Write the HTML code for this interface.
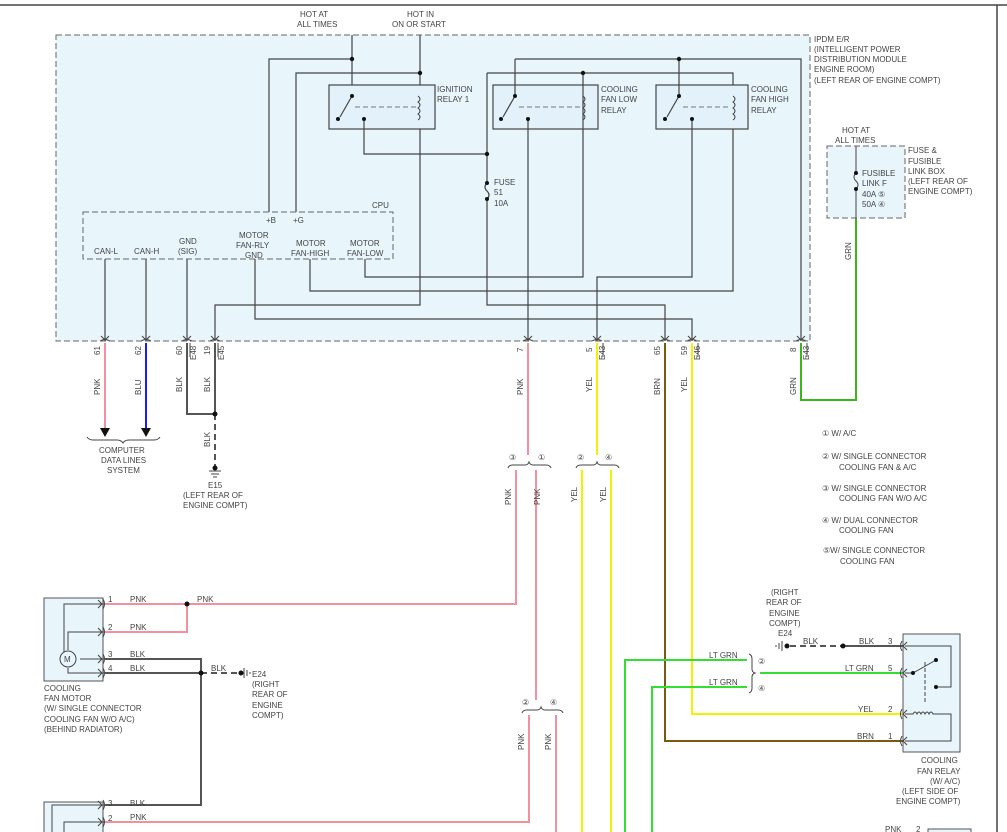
<!DOCTYPE html>
<html><head><meta charset="utf-8"><style>
html,body{margin:0;padding:0;background:#fff;}
svg{display:block;}
text{font-family:"Liberation Sans",sans-serif;font-size:8px;fill:#444;}
</style></head><body>
<svg width="1007" height="832" viewBox="0 0 1007 832" xmlns="http://www.w3.org/2000/svg">
<defs>
<g id="pin"><path d="M-4,-5 L0,-1 L4,-5 M-5,0 Q0,-3 5,0" stroke="#444" fill="none" stroke-width="1"/></g>
<g id="pinL"><path d="M5,-4 L1,0 L5,4 M0,-5 Q-3,0 0,5" stroke="#444" fill="none" stroke-width="1"/></g>
<g id="pinR"><path d="M-5,-4 L-1,0 L-5,4 M0,-5 Q3,0 0,5" stroke="#444" fill="none" stroke-width="1"/></g>
</defs>
<line x1="0" y1="5" x2="1007" y2="5" stroke="#444" stroke-width="1.5"/>
<line x1="997" y1="5" x2="997" y2="832" stroke="#444" stroke-width="1.5"/>

<rect x="56" y="35" width="754" height="306" fill="#e8f5fb" stroke="#666" stroke-dasharray="6,3"/>
<text x="300" y="17">HOT AT</text><text x="297" y="27">ALL TIMES</text>
<text x="407" y="17">HOT IN</text><text x="392" y="27">ON OR START</text>
<text x="814" y="42">IPDM E/R</text>
<text x="814" y="52">(INTELLIGENT POWER</text>
<text x="814" y="62">DISTRIBUTION MODULE</text>
<text x="814" y="72">ENGINE ROOM)</text>
<text x="814" y="83">(LEFT REAR OF ENGINE COMPT)</text>

<g stroke="#444" fill="none" stroke-width="1.2">
<path d="M352,35 V96 M420,35 V305 H215 V341"/>
<path d="M352,59 H269 V212 M420,73 H296 V212"/>
<rect x="329" y="85" width="106" height="44" fill="#e3f2fa"/>
<path d="M352,96 L340,117"/>
<path d="M364,119 V154 H487"/>
<path d="M487,73 V183 M487,199 V305 H665 V341"/>
<path d="M487,183 q-4,4 0,8 q4,4 0,8"/>
<path d="M487,73 H733 V291 H310 V259"/>
<path d="M515,59 H801 V341"/>
<rect x="493" y="85" width="105" height="44" fill="#e3f2fa"/>
<path d="M515,59 V96 L503,117 M528,119 V341"/>
<path d="M583,73 V277 H365 V259"/>
<rect x="656" y="85" width="92" height="44" fill="#e3f2fa"/>
<path d="M679,59 V96 L667,117 M692,119 V277 H597 V341"/>
<path d="M255,259 V319 H692 V341"/>
<path d="M105,259 V341 M146,259 V341 M187,259 V341"/>
</g>
<g stroke="#444" fill="none" stroke-width="1">
<path d="M418,96 q4,3 0,6 q4,3 0,6 q4,3 0,6 q4,3 0,6"/>
<path d="M583,96 q4,3 0,6 q4,3 0,6 q4,3 0,6 q4,3 0,6"/>
<path d="M733,96 q4,3 0,6 q4,3 0,6 q4,3 0,6 q4,3 0,6"/>
<path d="M355,107 H416 M519,107 H580 M683,107 H730" stroke-dasharray="5,3" stroke="#777"/>
</g>
<g fill="#111">
<circle cx="352" cy="59" r="2.2"/><circle cx="420" cy="73" r="2.2"/>
<circle cx="352" cy="96" r="2"/><circle cx="338" cy="119" r="2"/><circle cx="364" cy="119" r="2"/>
<circle cx="487" cy="154" r="2.2"/><circle cx="487" cy="183" r="2"/><circle cx="487" cy="199" r="2"/>
<circle cx="583" cy="73" r="2.2"/><circle cx="679" cy="59" r="2.2"/>
<circle cx="515" cy="96" r="2"/><circle cx="501" cy="119" r="2"/><circle cx="528" cy="119" r="2"/>
<circle cx="679" cy="96" r="2"/><circle cx="665" cy="119" r="2"/><circle cx="692" cy="119" r="2"/>
</g>
<text x="437" y="92">IGNITION</text><text x="437" y="102">RELAY 1</text>
<text x="601" y="92">COOLING</text><text x="601" y="102">FAN LOW</text><text x="601" y="113">RELAY</text>
<text x="751" y="92">COOLING</text><text x="751" y="102">FAN HIGH</text><text x="751" y="113">RELAY</text>
<text x="494" y="185">FUSE</text><text x="494" y="195">51</text><text x="494" y="206">10A</text>

<rect x="83" y="212" width="310" height="47" fill="none" stroke="#666" stroke-dasharray="6,3"/>
<text x="372" y="208">CPU</text>
<text x="266" y="223">+B</text><text x="293" y="223">+G</text>
<text x="94" y="254">CAN-L</text><text x="134" y="254">CAN-H</text>
<text x="179" y="244">GND</text><text x="178" y="254">(SIG)</text>
<text x="239" y="238">MOTOR</text><text x="236" y="248">FAN-RLY</text><text x="245" y="258">GND</text>
<text x="296" y="246">MOTOR</text><text x="291" y="256">FAN-HIGH</text>
<text x="350" y="246">MOTOR</text><text x="347" y="256">FAN-LOW</text>

<g>
<use href="#pin" x="105" y="341"/><use href="#pin" x="146" y="341"/><use href="#pin" x="187" y="341"/><use href="#pin" x="215" y="341"/>
<use href="#pin" x="528" y="341"/><use href="#pin" x="597" y="341"/><use href="#pin" x="665" y="341"/><use href="#pin" x="692" y="341"/><use href="#pin" x="801" y="341"/>
</g>
<g font-size="7">
<text transform="translate(100,355) rotate(-90)">61</text>
<text transform="translate(141,355) rotate(-90)">62</text>
<text transform="translate(182,355) rotate(-90)">60</text>
<text transform="translate(196,360) rotate(-90)">E48</text>
<text transform="translate(210,355) rotate(-90)">19</text>
<text transform="translate(224,360) rotate(-90)">E45</text>
<text transform="translate(523,352) rotate(-90)">7</text>
<text transform="translate(592,352) rotate(-90)">5</text>
<text transform="translate(605,360) rotate(-90)">E43</text>
<text transform="translate(660,355) rotate(-90)">65</text>
<text transform="translate(687,355) rotate(-90)">59</text>
<text transform="translate(700,360) rotate(-90)">E46</text>
<text transform="translate(796,352) rotate(-90)">8</text>
<text transform="translate(809,360) rotate(-90)">E43</text>
</g>
<path d="M190,343 V357 M218,343 V357 M603,343 V357 M698,343 V357 M807,343 V357" stroke="#444"/>

<g fill="none" stroke-width="2">
<path d="M105,343 V428" stroke="#f48fa0"/>
<path d="M146,343 V428" stroke="#1a1aff"/>
<path d="M187,343 V414 H215 M215,343 V414" stroke="#555"/>
<path d="M215,414 V466" stroke="#555" stroke-dasharray="6,4"/>
<path d="M528,343 V455" stroke="#f48fa0"/>
<path d="M516,470 V604 H105 M187,604 V632 H105" stroke="#f48fa0"/>
<path d="M536,470 V700" stroke="#f48fa0"/>
<path d="M529,715 V822 H105 M556,715 V832" stroke="#f48fa0"/>
<path d="M597,343 V455 M582,470 V832 M611,470 V832" stroke="#f2f200"/>
<path d="M692,343 V714 H903" stroke="#f2f200"/>
<path d="M665,343 V741 H903" stroke="#7a5a10"/>
<path d="M801,343 V400 H856 V218" stroke="#3cb41e"/>
<path d="M625,832 V660 H747 M652,832 V687 H747 M760,673 H903" stroke="#33dd33"/>
<path d="M105,659 H201 V805 H105 M105,673 H201" stroke="#555"/>
<path d="M201,673 H240" stroke="#555" stroke-dasharray="6,4"/>
<path d="M843,646 H903" stroke="#555"/>
<path d="M790,646 H843" stroke="#555" stroke-dasharray="6,4"/>
</g>
<polygon points="100,428 110,428 105,437" fill="#111"/>
<polygon points="141,428 151,428 146,437" fill="#111"/>
<path d="M87,437 q2,3 6,3 H117 q4,0 6,3 q2,-3 6,-3 H154 q4,0 6,-3" stroke="#444" fill="none"/>
<text x="99" y="453">COMPUTER</text><text x="101" y="463">DATA LINES</text><text x="107" y="473">SYSTEM</text>
<g fill="#111"><circle cx="215" cy="414" r="2.5"/><circle cx="215" cy="468" r="2.5"/>
<circle cx="187" cy="604" r="2.5"/><circle cx="201" cy="673" r="2.5"/><circle cx="241" cy="673" r="2.5"/>
<circle cx="843" cy="646" r="2.5"/><circle cx="787" cy="646" r="2.5"/></g>
<path d="M209,471 H221 M211,474 H219 M213,477 H217" stroke="#444"/>
<path d="M244,668 V678 M247,670 V676 M250,672 V674" stroke="#444"/>
<path d="M782,641 V651 M779,643 V649 M776,645 V647" stroke="#444"/>
<text x="208" y="488">E15</text><text x="183" y="498">(LEFT REAR OF</text><text x="183" y="508">ENGINE COMPT)</text>

<g font-size="7">
<text transform="translate(100,395) rotate(-90)">PNK</text>
<text transform="translate(141,395) rotate(-90)">BLU</text>
<text transform="translate(182,392) rotate(-90)">BLK</text>
<text transform="translate(210,392) rotate(-90)">BLK</text>
<text transform="translate(210,447) rotate(-90)">BLK</text>
<text transform="translate(523,395) rotate(-90)">PNK</text>
<text transform="translate(592,392) rotate(-90)">YEL</text>
<text transform="translate(660,395) rotate(-90)">BRN</text>
<text transform="translate(687,392) rotate(-90)">YEL</text>
<text transform="translate(796,395) rotate(-90)">GRN</text>
<text transform="translate(851,260) rotate(-90)">GRN</text>
<text transform="translate(511,505) rotate(-90)">PNK</text>
<text transform="translate(540,505) rotate(-90)">PNK</text>
<text transform="translate(577,502) rotate(-90)">YEL</text>
<text transform="translate(606,502) rotate(-90)">YEL</text>
<text transform="translate(524,750) rotate(-90)">PNK</text>
<text transform="translate(551,750) rotate(-90)">PNK</text>
</g>
<g stroke="#444" fill="none">
<path d="M508,468 q1,-3 5,-3 H525 q3,0 4,-3 q1,3 4,3 H546 q4,0 5,3"/>
<path d="M576,468 q1,-3 5,-3 H593 q3,0 4,-3 q1,3 4,3 H614 q4,0 5,3"/>
<path d="M522,713 q1,-3 5,-3 H537 q3,0 4,-3 q1,3 4,3 H558 q4,0 5,3"/>
<path d="M749,654 q3,1 3,5 V669 q0,3 3,4 q-3,1 -3,4 V688 q0,4 -3,5"/>
</g>
<text x="509" y="460">③</text><text x="538" y="460">①</text>
<text x="577" y="460">②</text><text x="605" y="460">④</text>
<text x="522" y="705">②</text><text x="550" y="705">④</text>
<text x="758" y="664">②</text><text x="758" y="691">④</text>

<rect x="827" y="146" width="78" height="72" fill="#e8f5fb" stroke="#666" stroke-dasharray="6,3"/>
<path d="M856,146 V173 M856,190 V218" stroke="#444"/>
<path d="M856,173 q-4,4 0,8 q4,4 0,8" stroke="#444" fill="none"/>
<circle cx="856" cy="173" r="2" fill="#111"/><circle cx="856" cy="189" r="2" fill="#111"/>
<text x="842" y="133">HOT AT</text><text x="835" y="143">ALL TIMES</text>
<text x="862" y="176">FUSIBLE</text><text x="862" y="186">LINK F</text>
<text x="862" y="197">40A ⑤</text><text x="862" y="207">50A ④</text>
<text x="908" y="153">FUSE &amp;</text><text x="908" y="164">FUSIBLE</text><text x="908" y="174">LINK BOX</text>
<text x="908" y="184">(LEFT REAR OF</text><text x="908" y="194">ENGINE COMPT)</text>

<text x="822" y="436">① W/ A/C</text>
<text x="822" y="459">② W/ SINGLE CONNECTOR</text><text x="839" y="470">COOLING FAN &amp; A/C</text>
<text x="822" y="491">③ W/ SINGLE CONNECTOR</text><text x="839" y="501">COOLING FAN W/O A/C</text>
<text x="822" y="523">④ W/ DUAL CONNECTOR</text><text x="839" y="533">COOLING FAN</text>
<text x="823" y="553">⑤W/ SINGLE CONNECTOR</text><text x="840" y="564">COOLING FAN</text>

<rect x="44" y="598" width="59" height="83" fill="#e8f5fb" stroke="#555"/>
<g stroke="#444" fill="none">
<path d="M104,604 H64 V659 H60 M104,632 H68 V650 M104,659 H80 M104,673 H68 V668"/>
<circle cx="68" cy="659" r="8" fill="#e8f5fb"/>
</g>
<text x="64" y="662" font-size="8">M</text>
<use href="#pinR" x="103" y="604"/><use href="#pinR" x="103" y="632"/><use href="#pinR" x="103" y="659"/><use href="#pinR" x="103" y="673"/>
<text x="108" y="602">1</text><text x="108" y="630">2</text><text x="108" y="657">3</text><text x="108" y="671">4</text>
<text x="130" y="602">PNK</text><text x="197" y="602">PNK</text><text x="130" y="630">PNK</text>
<text x="130" y="657">BLK</text><text x="130" y="671">BLK</text><text x="211" y="671">BLK</text>
<text x="252" y="677">E24</text><text x="252" y="687">(RIGHT</text><text x="252" y="697">REAR OF</text><text x="252" y="708">ENGINE</text><text x="252" y="718">COMPT)</text>
<text x="44" y="691">COOLING</text><text x="44" y="701">FAN MOTOR</text><text x="44" y="711">(W/ SINGLE CONNECTOR</text>
<text x="44" y="722">COOLING FAN W/O A/C)</text><text x="44" y="732">(BEHIND RADIATOR)</text>

<rect x="44" y="802" width="59" height="40" fill="#e8f5fb" stroke="#555"/>
<path d="M104,805 H52 V832 M104,822 H64 V832" stroke="#444" fill="none"/>
<use href="#pinR" x="103" y="805"/><use href="#pinR" x="103" y="822"/>
<text x="108" y="806">3</text><text x="108" y="821">2</text>
<text x="130" y="806">BLK</text><text x="130" y="820">PNK</text>

<rect x="903" y="634" width="57" height="118" fill="#e8f5fb" stroke="#555"/>
<g stroke="#444" fill="none">
<path d="M905,646 H951 V687 H936 M905,673 H913 L936,660"/>
<path d="M925,662 V702" stroke-dasharray="4,2"/>
<path d="M905,714 H913 q2,-4 4,0 q2,-4 4,0 q2,-4 4,0 q2,-4 4,0 q2,-4 4,0 H951 V741 H905"/>
</g>
<circle cx="913" cy="673" r="2" fill="#111"/><circle cx="936" cy="660" r="2" fill="#111"/><circle cx="936" cy="687" r="2" fill="#111"/>
<use href="#pinL" x="902" y="646"/><use href="#pinL" x="902" y="673"/><use href="#pinL" x="902" y="714"/><use href="#pinL" x="902" y="741"/>
<text x="888" y="644">3</text><text x="888" y="671">5</text><text x="888" y="712">2</text><text x="888" y="739">1</text>
<text x="859" y="644">BLK</text><text x="845" y="671">LT GRN</text><text x="858" y="712">YEL</text><text x="857" y="739">BRN</text>
<text x="803" y="644">BLK</text>
<text x="709" y="658">LT GRN</text><text x="709" y="685">LT GRN</text>
<text x="771" y="595">(RIGHT</text><text x="766" y="605">REAR OF</text><text x="769" y="616">ENGINE</text><text x="769" y="626">COMPT)</text><text x="778" y="636">E24</text>
<text x="921" y="763">COOLING</text><text x="917" y="774">FAN RELAY</text><text x="930" y="784">(W/ A/C)</text>
<text x="902" y="794">(LEFT SIDE OF</text><text x="896" y="804">ENGINE COMPT)</text>
<rect x="928" y="829" width="43" height="10" fill="#e8f5fb" stroke="#555"/>
<text x="885" y="832">PNK</text><text x="916" y="832">2</text>
</svg>
</body></html>
